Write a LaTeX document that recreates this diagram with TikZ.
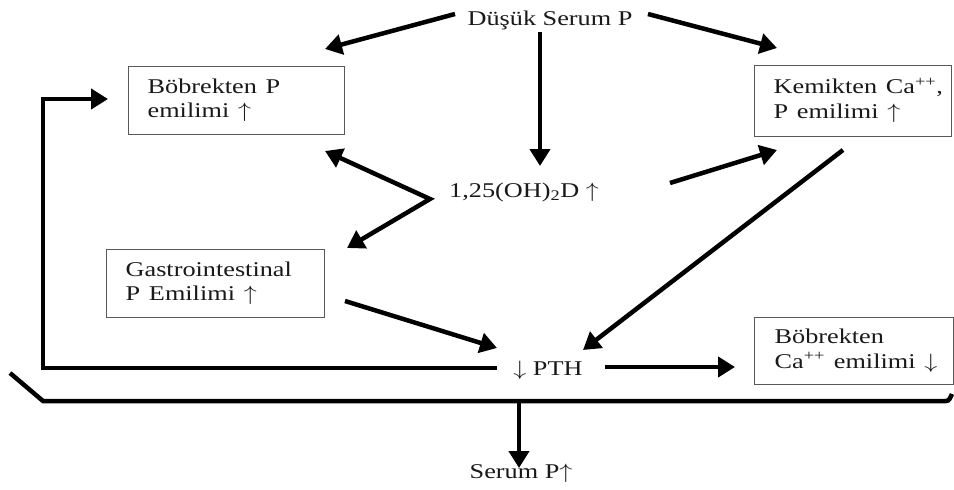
\documentclass[tikz,border=0pt]{standalone}
\usepackage{fontspec}
\usepackage{graphicx}
\setmainfont{Liberation Serif}
\usetikzlibrary{arrows.meta}
\newcommand{\W}[1]{\scalebox{1.25}[1]{#1}}
\newcommand{\Lines}[1]{\W{\begin{tabular}{@{}l@{}}#1\end{tabular}}}
\newcommand{\UA}{$\uparrow$}
\newcommand{\DA}{$\downarrow$}
\begin{document}
\begin{tikzpicture}[x=1pt,y=-1pt,
  every node/.style={font=\fontsize{21}{24.5}\selectfont, text=black!90},
  box/.style={draw=black!65, line width=1.3pt, anchor=north west, inner ysep=0pt, align=left},
  lbl/.style={anchor=base, inner sep=0pt},
  arr/.style={line width=4.5pt, -{Triangle[length=17pt,width=20pt]}},
  bar/.style={line width=4.5pt, line join=miter}]
\useasboundingbox (0,0) rectangle (954,490);
% boxes
\node[box, text width=178pt, inner xsep=19pt, minimum height=68pt] (bob1) at (128,66) {\Lines{Böbrekten P\\ emilimi \UA}};
\node[box, text width=159pt, inner xsep=19pt, minimum height=71pt] (kem) at (754,65) {\Lines{Kemikten Ca\textsuperscript{++},\\ P emilimi \UA}};
\node[box, text width=180pt, inner xsep=19pt, minimum height=68pt] (gastro) at (106,249) {\Lines{Gastrointestinal\\ P Emilimi \UA}};
\node[box, text width=159pt, inner xsep=20pt, minimum height=67pt] (bobca) at (754,317) {\Lines{Böbrekten\\ Ca\textsuperscript{++} emilimi \DA}};
% plain labels
\node[lbl] (dusuk) at (550,25) {\W{Düşük Serum P}};
\node[lbl] (vitd) at (524,197) {\W{1,25(OH)\textsubscript{2}D \UA}};
\node[lbl] (pth) at (548,375) {\W{\DA{} PTH}};
\node[lbl] (serum) at (521,478) {\W{Serum P\UA}};
% coordinates for connector ends
\coordinate (d1) at (455,14);  \coordinate (b1t) at (325,49);
\coordinate (d2) at (648,14);  \coordinate (k1t) at (777,48);
\coordinate (d3) at (540,32);  \coordinate (v1t) at (540,166);
\coordinate (b1b) at (325,151); \coordinate (vk) at (430,199); \coordinate (g1t) at (347,248);
\coordinate (v2) at (670,183); \coordinate (k2t) at (777,150);
\coordinate (k3) at (843,150); \coordinate (p1t) at (583,350);
\coordinate (g2) at (345,301); \coordinate (p2t) at (497,348);
\coordinate (p3) at (605,367); \coordinate (bct) at (735,367);
\coordinate (p4) at (497,368); \coordinate (fl) at (43,368); \coordinate (fu) at (43,99); \coordinate (b1l) at (108,99);
\coordinate (br0) at (10,373); \coordinate (br1) at (43,401); \coordinate (br2) at (946,401); \coordinate (br3) at (952,394);
\coordinate (s0) at (519,401); \coordinate (st) at (519,468);
% connectors
\draw[arr] (d1) -- (b1t);
\draw[arr] (d2) -- (k1t);
\draw[arr] (d3) -- (v1t);
\draw[arr, {Triangle[length=17pt,width=20pt]}-{Triangle[length=17pt,width=20pt]}, line join=miter] (b1b) -- (vk) -- (g1t);
\draw[arr] (v2) -- (k2t);
\draw[arr] (k3) -- (p1t);
\draw[arr] (g2) -- (p2t);
\draw[arr] (p3) -- (bct);
\draw[arr, line join=miter] (p4) -- (fl) -- (fu) -- (b1l);
\draw[bar] (br0) -- (br1) -- (br2) to[out=0,in=-120] (br3);
\draw[arr] (s0) -- (st);
\end{tikzpicture}
\end{document}
